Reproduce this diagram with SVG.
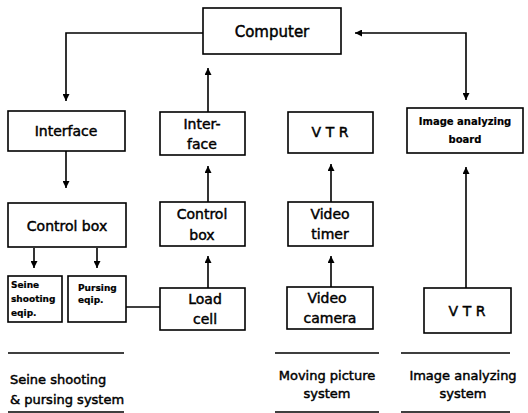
<svg xmlns="http://www.w3.org/2000/svg" width="528" height="413" viewBox="0 0 528 413">
<defs>
<marker id="ah" viewBox="0 0 10 10" refX="10" refY="5" markerWidth="7" markerHeight="7" markerUnits="userSpaceOnUse" orient="auto-start-reverse">
<path d="M0,0 L10,5 L0,10 z" fill="#000"/>
</marker>
<style>
.box{fill:#fff;stroke:#000;stroke-width:1.6}
.ln{fill:none;stroke:#000;stroke-width:1.6}
.ar{fill:none;stroke:#000;stroke-width:1.6;marker-end:url(#ah)}
.ar2{fill:none;stroke:#000;stroke-width:1.6;marker-start:url(#ah);marker-end:url(#ah)}
text{font-family:"DejaVu Sans","Liberation Sans",sans-serif;fill:#000;stroke:#000;stroke-width:0.45;text-anchor:middle}
.t15{font-size:15px}
.t14{font-size:14px}
.t13{font-size:13px}
.t9{font-size:9px;font-weight:bold;stroke-width:0.2;text-anchor:start}
.t10{font-size:10px;font-weight:bold;stroke-width:0.2}
</style>
</defs>
<g id="connectors">
<path class="ar" d="M203,33 H66 V101"/>
<path class="ar2" d="M466,100 V33 H355"/>
<path class="ar" d="M208,112 V68"/>
<path class="ar" d="M66,151 V188"/>
<path class="ar" d="M34,248 V268"/>
<path class="ar" d="M97,248 V268"/>
<path class="ln" d="M126,307 H160"/>
<path class="ar" d="M208,288 V256"/>
<path class="ar" d="M208,202 V166"/>
<path class="ar" d="M331,202 V164"/>
<path class="ar" d="M331,288 V256"/>
<path class="ar" d="M466,288 V167"/>
<path class="ln" d="M8,353 H124 M275,353 H379 M401,353 H510 M8,412 H124 M275,412 H379 M401,412 H510"/>
</g>
<g id="computer"><rect class="box" x="203" y="8" width="138" height="46"/><text class="t15" x="272" y="37">Computer</text></g>
<g id="interface1"><rect class="box" x="8" y="111" width="117" height="40"/><text class="t14" x="66" y="136">Interface</text></g>
<g id="interface2"><rect class="box" x="160" y="112" width="85" height="43"/><text class="t14" x="202" y="129">Inter-</text><text class="t14" x="202" y="149">face</text></g>
<g id="vtr1"><rect class="box" x="288" y="112" width="85" height="41"/><text class="t14" x="330" y="137">V T R</text></g>
<g id="board"><rect class="box" x="407" y="108" width="116" height="45"/><text class="t10" x="465" y="125">Image analyzing</text><text class="t10" x="465" y="143">board</text></g>
<g id="controlbox1"><rect class="box" x="8" y="203" width="118" height="44"/><text class="t14" x="67" y="231">Control box</text></g>
<g id="controlbox2"><rect class="box" x="160" y="202" width="85" height="44"/><text class="t14" x="202" y="219">Control</text><text class="t14" x="202" y="240">box</text></g>
<g id="videotimer"><rect class="box" x="288" y="202" width="85" height="44"/><text class="t14" x="330" y="219">Video</text><text class="t14" x="330" y="239">timer</text></g>
<g id="seine"><rect class="box" x="8" y="276" width="54" height="46"/><text class="t9" x="11" y="288">Seine</text><text class="t9" x="11" y="302">shooting</text><text class="t9" x="11" y="316">eqip.</text></g>
<g id="pursing"><rect class="box" x="68" y="276" width="58" height="46"/><text class="t9" x="78" y="291">Pursing</text><text class="t9" x="78" y="303">eqip.</text></g>
<g id="loadcell"><rect class="box" x="160" y="288" width="85" height="42"/><text class="t14" x="205" y="304">Load</text><text class="t14" x="205" y="324">cell</text></g>
<g id="videocamera"><rect class="box" x="287" y="287" width="86" height="42"/><text class="t14" x="327" y="303">Video</text><text class="t14" x="330" y="323">camera</text></g>
<g id="vtr2"><rect class="box" x="424" y="288" width="87" height="45"/><text class="t14" x="467" y="316">V T R</text></g>
<g id="labels">
<text class="t13" x="10" y="384" style="text-anchor:start">Seine shooting</text>
<text class="t13" x="10" y="404" style="text-anchor:start">&amp; pursing system</text>
<text class="t13" x="327" y="380">Moving picture</text>
<text class="t13" x="327" y="398">system</text>
<text class="t13" x="463" y="380">Image analyzing</text>
<text class="t13" x="463" y="398">system</text>
</g>
</svg>
